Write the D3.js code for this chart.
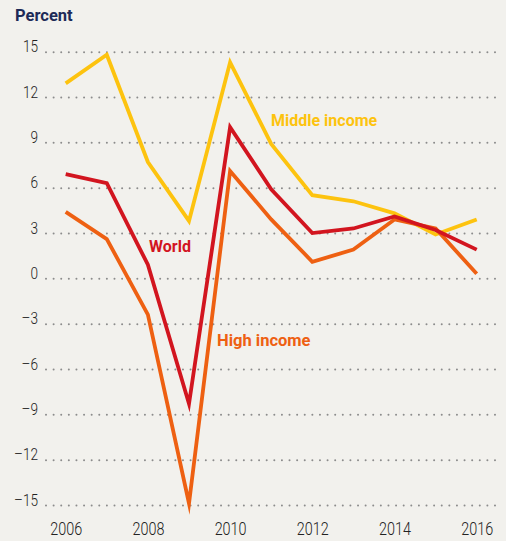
<!DOCTYPE html>
<html>
<head>
<meta charset="utf-8">
<script src="https://cdn.jsdelivr.net/npm/d3@7"></script>
<style>
  html, body { margin: 0; padding: 0; background: #f2f1ed; }
  svg { display: block; }
</style>
</head>
<body>
<div id="chart"></div>
<script>
const years = [2006, 2007, 2008, 2009, 2010, 2011, 2012, 2013, 2014, 2015, 2016];
const middleIncome = [12.9, 14.8, 7.7, 3.8, 14.3, 8.9, 5.5, 5.1, 4.3, 2.9, 3.9];
const world = [6.9, 6.3, 0.9, -8.3, 10.0, 5.9, 3.0, 3.3, 4.1, 3.2, 1.9];
const highIncome = [4.4, 2.6, -2.4, -14.9, 7.1, 3.9, 1.1, 1.9, 3.9, 3.3, 0.3];
const yTicks = [15, 12, 9, 6, 3, 0, -3, -6, -9, -12, -15];
const xTicks = [2006, 2008, 2010, 2012, 2014, 2016];
const seriesNames = ["Middle income", "World", "High income"];

const W = 506, H = 541;
const svg = d3.select("#chart").append("svg").attr("width", W).attr("height", H);
svg.append("rect").attr("width", W).attr("height", H).attr("fill", "#f2f1ed");

const x = d3.scaleLinear().domain([2006, 2016]).range([65.7, 476.7]);
const y = d3.scaleLinear().domain([-15, 15]).range([505, 51.7]);
const gridX0 = 45, gridX1 = 498;

// Y axis with dotted gridlines
const yAxis = d3.axisLeft(y).tickValues(yTicks).tickSize(0)
  .tickFormat(d => d < 0 ? "\u2013" + Math.abs(d) : String(d));
const gy = svg.append("g").attr("transform", `translate(${gridX0},0)`).call(yAxis);
gy.select(".domain").remove();
gy.selectAll(".tick line")
  .attr("x1", 0).attr("x2", gridX1 - gridX0)
  .attr("stroke", "#8c8c8c").attr("stroke-width", 2)
  .attr("stroke-dasharray", "0.01 7.6").attr("stroke-linecap", "round")
  .attr("transform", "translate(1,0)");
gy.selectAll(".tick text")
  .attr("x", 0).attr("dy", 0).attr("y", 0)
  .attr("transform", "translate(-7,0) scale(0.8,1)")
  .attr("fill", "#222")
  .style("font-family", "Roboto, sans-serif").style("font-weight", 300)
  .style("font-size", "17px");

// X axis labels
const xAxis = d3.axisBottom(x).tickValues(xTicks).tickSize(0).tickFormat(d3.format("d"));
const gx = svg.append("g").attr("transform", `translate(0,535)`).call(xAxis);
gx.select(".domain").remove();
gx.selectAll(".tick text")
  .attr("y", 0).attr("dy", 0)
  .attr("transform", "scale(0.8,1)")
  .attr("fill", "#222")
  .style("font-family", "Roboto, sans-serif").style("font-weight", 300)
  .style("font-size", "18px");

// Lines
const line = d3.line().x((d, i) => x(years[i])).y(d => y(d));
const series = [
  { name: seriesNames[0], values: middleIncome, color: "#fdc30f" },
  { name: seriesNames[2], values: highIncome, color: "#ee6012" },
  { name: seriesNames[1], values: world, color: "#d2151f" }
];
svg.append("g").selectAll("path").data(series).join("path")
  .attr("d", d => line(d.values))
  .attr("fill", "none")
  .attr("stroke", d => d.color)
  .attr("stroke-width", 3.8)
  .attr("stroke-linejoin", "miter")
  .attr("stroke-miterlimit", 10);

// Labels
const labelStyle = s => s.style("font-family", "Roboto, sans-serif").style("font-weight", 700).style("font-size", "16px");
svg.append("text").attr("x", 15).attr("y", 21).text("Percent")
  .attr("fill", "#1d2a57").call(labelStyle).style("font-size", "16.5px");
svg.append("text").attr("x", 149).attr("y", 251.5).text(seriesNames[1])
  .attr("fill", "#d2151f").call(labelStyle);
svg.append("text").attr("x", 271).attr("y", 125.5).text(seriesNames[0])
  .attr("fill", "#fdc30f").call(labelStyle);
svg.append("text").attr("x", 217).attr("y", 345.5).text(seriesNames[2])
  .attr("fill", "#ee6012").call(labelStyle).style("font-size", "16.5px");
</script>
</body>
</html>
